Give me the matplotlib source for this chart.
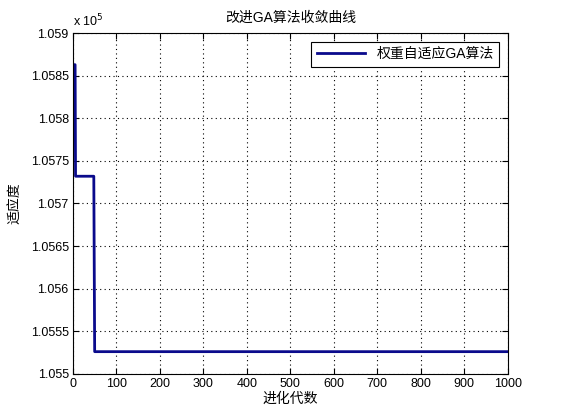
import numpy as np
import matplotlib
matplotlib.use("Agg")
import matplotlib.pyplot as plt

plt.rcParams['font.family'] = ['Liberation Sans', 'Noto Sans CJK SC', 'DejaVu Sans']

# generations where the best fitness changes, and the value held there
gens = [1, 5, 6, 48, 49, 50, 1000]
fitness = [1.05863e5, 1.05863e5, 1.05732e5, 1.05732e5, 1.05628e5, 1.05526e5, 1.05526e5]

x_ticks = [0, 100, 200, 300, 400, 500, 600, 700, 800, 900, 1000]
y_ticks = [1.055, 1.0555, 1.056, 1.0565, 1.057, 1.0575, 1.058, 1.0585, 1.059]
y_labels = ["1.055", "1.0555", "1.056", "1.0565", "1.057", "1.0575", "1.058", "1.0585", "1.059"]

fig = plt.figure(figsize=(5.61, 4.2), dpi=100)
ax = fig.add_axes([0.13, 0.11, 0.775, 0.811])

# plot in units of 1e5 like the matlab axis does
ax.plot(gens, np.array(fitness) / 1e5, color="#0a0a8c", linewidth=2, label="权重自适应GA算法")

ax.set_xlim(0, 1000)
ax.set_ylim(1.055, 1.059)
ax.set_xticks(x_ticks)
ax.set_yticks(y_ticks)
ax.set_yticklabels(y_labels)
ax.tick_params(direction="in", labelsize=9, length=4, top=True, right=True, pad=3)
ax.grid(True, linestyle=(0, (1, 3)), color="black", linewidth=0.8)
for s in ax.spines.values():
    s.set_linewidth(0.8)

ax.text(0, 1.01, "x 10$^5$", transform=ax.transAxes, fontsize=9, va="bottom", ha="left")
ax.set_title("改进GA算法收敛曲线", fontsize=10, pad=8)
ax.set_xlabel("进化代数", fontsize=10, labelpad=1)
ax.set_ylabel("适应度", fontsize=10, labelpad=6)

leg = ax.legend(loc="upper right", fontsize=10, fancybox=False, framealpha=1,
                edgecolor="black", handlelength=3.5, borderaxespad=0.6)
leg.get_frame().set_linewidth(0.8)

fig.savefig("out.png", dpi=100)
